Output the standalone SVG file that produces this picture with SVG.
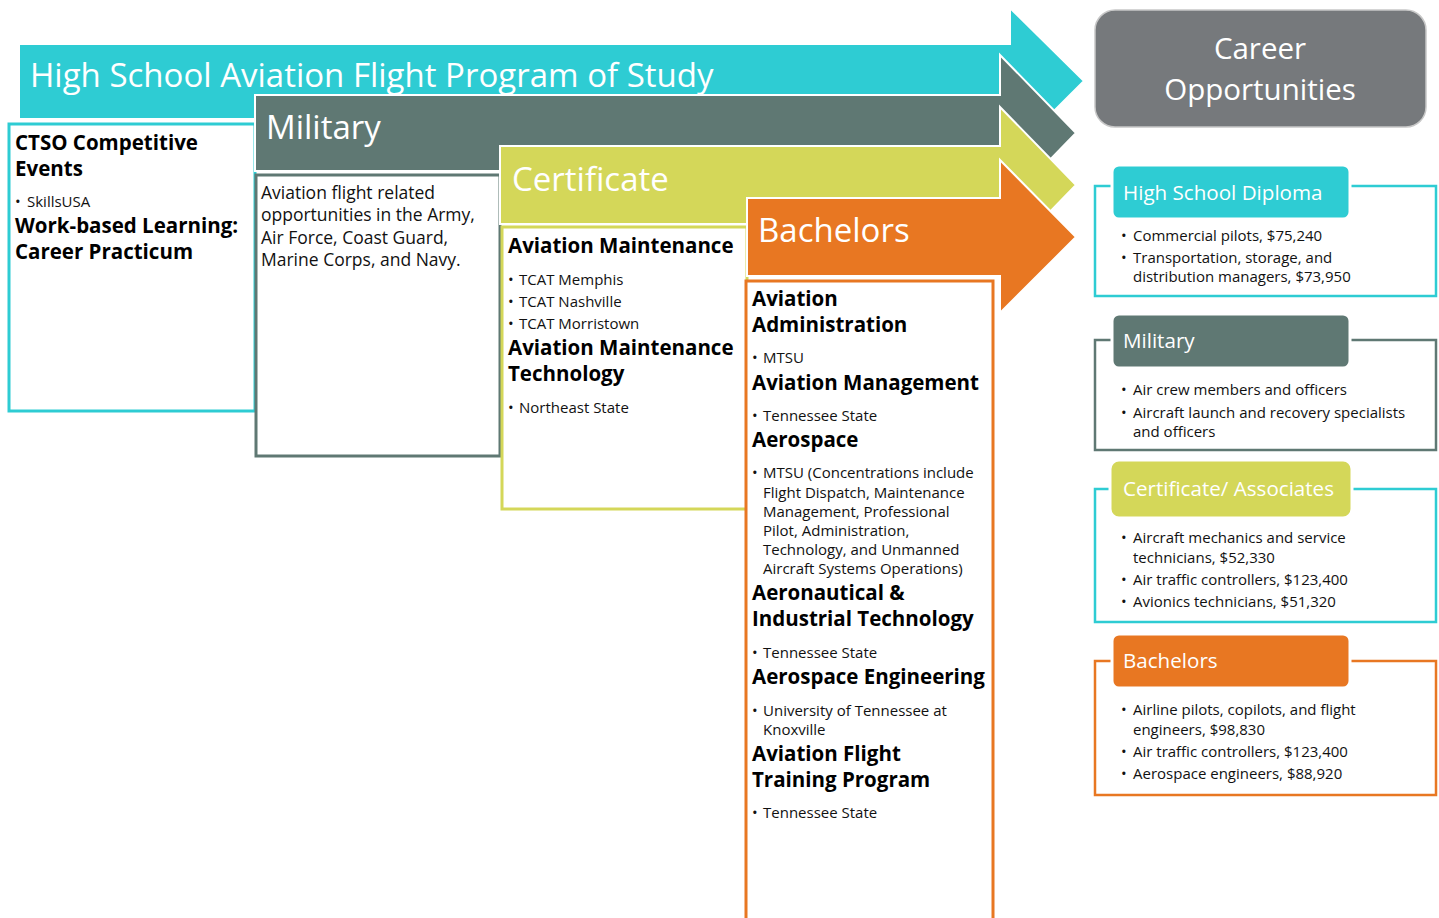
<svg xmlns="http://www.w3.org/2000/svg" width="1439" height="918" viewBox="0 0 1439 918">
<style>
text{font-family:"Open Sans","Noto Sans","DejaVu Sans",sans-serif;}
.arrow{stroke:#fff;stroke-width:2;stroke-linejoin:miter;}
.hd{fill:#fff;font-size:33px;}
.b{font-weight:bold;font-size:20.5px;fill:#000;}
.t{font-size:15px;fill:#111;}
.m{font-size:17.5px;fill:#111;}
.lbl{fill:#fff;font-size:20.6px;}
.teal{fill:#2ECCD3;}
.slate{fill:#5F7873;}
.lime{fill:#D4D759;}
.orange{fill:#E87722;}
</style>
<rect width="1439" height="918" fill="#fff"/>
<g id="connectors">
<g id="arrow-hs">
<path class="arrow teal" d="M19,44 H1010 V8 L1084,81 L1010,155 V119 H19 Z"/>
<text class="hd" x="30" y="87">High School Aviation Flight Program of Study</text>
</g>
</g>
<g id="box-ctso">
<rect x="9" y="124" width="246" height="287" fill="#fff" stroke="#2ECCD3" stroke-width="3"/>
<text class="b" x="15" y="150">CTSO Competitive</text>
<text class="b" x="15" y="176">Events</text>
<text class="t" x="15" y="207">•<tspan x="27">SkillsUSA</tspan></text>
<text class="b" x="15" y="233">Work-based Learning:</text>
<text class="b" x="15" y="259">Career Practicum</text>
</g>
<g id="arrow-military">
<path class="arrow slate" d="M255,95 H1000 V55 L1076,133 L1000,211 V171 H255 Z"/>
<text class="hd" x="266" y="139">Military</text>
</g>
<g id="box-military">
<rect x="256" y="175" width="244" height="281" fill="#fff" stroke="#5F7873" stroke-width="3"/>
<text class="m" x="261" y="199">Aviation flight related</text>
<text class="m" x="261" y="221">opportunities in the Army,</text>
<text class="m" x="261" y="244">Air Force, Coast Guard,</text>
<text class="m" x="261" y="266">Marine Corps, and Navy.</text>
</g>
<g id="arrow-certificate">
<path class="arrow lime" d="M500,146 H1000 V107 L1076,185 L1000,263 V224 H500 Z"/>
<text class="hd" x="512" y="191">Certificate</text>
</g>
<g id="box-certificate">
<rect x="502" y="227" width="245" height="282" fill="#fff" stroke="#D4D759" stroke-width="3"/>
<text class="b" x="508" y="253">Aviation Maintenance</text>
<text class="t" x="508" y="285">•<tspan x="519">TCAT Memphis</tspan></text>
<text class="t" x="508" y="307">•<tspan x="519">TCAT Nashville</tspan></text>
<text class="t" x="508" y="329">•<tspan x="519">TCAT Morristown</tspan></text>
<text class="b" x="508" y="355">Aviation Maintenance</text>
<text class="b" x="508" y="381">Technology</text>
<text class="t" x="508" y="413">•<tspan x="519">Northeast State</tspan></text>
</g>
<g id="arrow-bachelors">
<path class="arrow orange" d="M747,198 H1000 V160 L1076,237 L1000,313 V276 H747 Z"/>
<text class="hd" x="758" y="242" font-size="32">Bachelors</text>
</g>
<g id="box-bachelors">
<rect x="746" y="281" width="247" height="650" fill="#fff" stroke="#E87722" stroke-width="3"/>
<text class="b" x="752" y="306">Aviation</text>
<text class="b" x="752" y="332">Administration</text>
<text class="t" x="752" y="363">•<tspan x="763">MTSU</tspan></text>
<text class="b" x="752" y="390">Aviation Management</text>
<text class="t" x="752" y="421">•<tspan x="763">Tennessee State</tspan></text>
<text class="b" x="752" y="447">Aerospace</text>
<text class="t" x="752" y="478">•<tspan x="763">MTSU (Concentrations include</tspan></text>
<text class="t" x="763" y="498">Flight Dispatch, Maintenance</text>
<text class="t" x="763" y="517">Management, Professional</text>
<text class="t" x="763" y="536">Pilot, Administration,</text>
<text class="t" x="763" y="555">Technology, and Unmanned</text>
<text class="t" x="763" y="574">Aircraft Systems Operations)</text>
<text class="b" x="752" y="600">Aeronautical &amp;</text>
<text class="b" x="752" y="626">Industrial Technology</text>
<text class="t" x="752" y="658">•<tspan x="763">Tennessee State</tspan></text>
<text class="b" x="752" y="684">Aerospace Engineering</text>
<text class="t" x="752" y="716">•<tspan x="763">University of Tennessee at</tspan></text>
<text class="t" x="763" y="735">Knoxville</text>
<text class="b" x="752" y="761">Aviation Flight</text>
<text class="b" x="752" y="787">Training Program</text>
<text class="t" x="752" y="818">•<tspan x="763">Tennessee State</tspan></text>
</g>
<g id="career-opportunities">
<rect x="1095" y="10" width="331" height="117" rx="20" fill="#76797C" stroke="#C8C8C8" stroke-width="1.5"/>
<text x="1260" y="59" text-anchor="middle" fill="#fff" font-size="29.5">Career</text>
<text x="1260" y="100" text-anchor="middle" fill="#fff" font-size="29.5">Opportunities</text>
</g>
<g id="career-hs">
<rect x="1095" y="186" width="341" height="110" fill="#fff" stroke="#2ECCD3" stroke-width="2.5"/>
<rect x="1112" y="165" width="238" height="54" rx="7" class="teal" stroke="#fff" stroke-width="3"/>
<text class="lbl" x="1123" y="200">High School Diploma</text>
<text class="t" x="1121" y="241">•<tspan x="1133">Commercial pilots, $75,240</tspan></text>
<text class="t" x="1121" y="263">•<tspan x="1133">Transportation, storage, and</tspan></text>
<text class="t" x="1133" y="282">distribution managers, $73,950</text>
</g>
<g id="career-military">
<rect x="1095" y="340" width="341" height="110" fill="#fff" stroke="#5F7873" stroke-width="2.5"/>
<rect x="1112" y="314" width="238" height="54" rx="7" class="slate" stroke="#fff" stroke-width="3"/>
<text class="lbl" x="1123" y="348">Military</text>
<text class="t" x="1121" y="395">•<tspan x="1133">Air crew members and officers</tspan></text>
<text class="t" x="1121" y="418">•<tspan x="1133">Aircraft launch and recovery specialists</tspan></text>
<text class="t" x="1133" y="437">and officers</text>
</g>
<g id="career-certificate">
<rect x="1095" y="489" width="341" height="133" fill="#fff" stroke="#2ECCD3" stroke-width="2.5"/>
<rect x="1110" y="460" width="242" height="58" rx="9" class="lime" stroke="#fff" stroke-width="3"/>
<text class="lbl" x="1123" y="496">Certificate/ Associates</text>
<text class="t" x="1121" y="543">•<tspan x="1133">Aircraft mechanics and service</tspan></text>
<text class="t" x="1133" y="563">technicians, $52,330</text>
<text class="t" x="1121" y="585">•<tspan x="1133">Air traffic controllers, $123,400</tspan></text>
<text class="t" x="1121" y="607">•<tspan x="1133">Avionics technicians, $51,320</tspan></text>
</g>
<g id="career-bachelors">
<rect x="1095" y="661" width="341" height="134" fill="#fff" stroke="#E87722" stroke-width="2.5"/>
<rect x="1112" y="634" width="238" height="54" rx="7" class="orange" stroke="#fff" stroke-width="3"/>
<text class="lbl" x="1123" y="668">Bachelors</text>
<text class="t" x="1121" y="715">•<tspan x="1133">Airline pilots, copilots, and flight</tspan></text>
<text class="t" x="1133" y="735">engineers, $98,830</text>
<text class="t" x="1121" y="757">•<tspan x="1133">Air traffic controllers, $123,400</tspan></text>
<text class="t" x="1121" y="779">•<tspan x="1133">Aerospace engineers, $88,920</tspan></text>
</g>
</svg>
